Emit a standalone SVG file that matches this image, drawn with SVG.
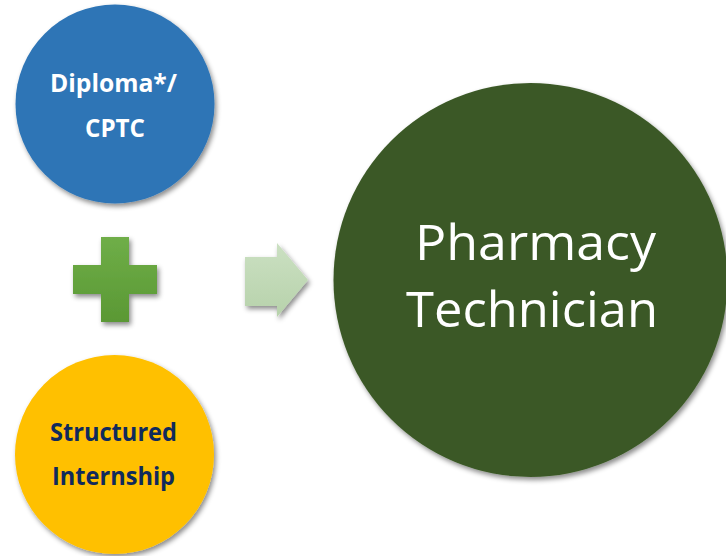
<svg xmlns="http://www.w3.org/2000/svg" width="726" height="556" viewBox="0 0 726 556">
  <style>
    .lbl-bold { font-family: "Open Sans", "Liberation Sans", sans-serif; font-weight: bold; font-size: 25px; text-anchor: middle; }
    .lbl-big { font-family: "Open Sans", "Liberation Sans", sans-serif; font-size: 50px; fill: #ffffff; text-anchor: middle; }
  </style>
  <defs>
    <filter id="shadow" x="-20%" y="-20%" width="140%" height="140%">
      <feDropShadow dx="2" dy="3" stdDeviation="2.5" flood-color="#000000" flood-opacity="0.45"/>
    </filter>
    <linearGradient id="plusGrad" x1="0" y1="0" x2="0" y2="1">
      <stop offset="0" stop-color="#6fae48"/>
      <stop offset="1" stop-color="#5a9834"/>
    </linearGradient>
    <linearGradient id="arrowGrad" x1="0" y1="0" x2="0" y2="1">
      <stop offset="0" stop-color="#cbe0c2"/>
      <stop offset="1" stop-color="#b7d2ab"/>
    </linearGradient>
  </defs>
  <rect width="726" height="556" fill="#ffffff"/>

  <g id="diploma">
    <circle cx="115" cy="104" r="99.5" fill="#2e75b6" filter="url(#shadow)"/>
    <text class="lbl-bold" fill="#ffffff"><tspan x="113.5" y="92" textLength="127" lengthAdjust="spacingAndGlyphs">Diploma*/</tspan><tspan x="115" y="137" textLength="60" lengthAdjust="spacingAndGlyphs">CPTC</tspan></text>
  </g>

  <g id="internship">
    <circle cx="114.5" cy="454.5" r="99.5" fill="#ffc000" filter="url(#shadow)"/>
    <text class="lbl-bold" fill="#102a5c"><tspan x="113.5" y="441" textLength="127" lengthAdjust="spacingAndGlyphs">Structured</tspan><tspan x="113.5" y="485" textLength="123" lengthAdjust="spacingAndGlyphs">Internship</tspan></text>
  </g>

  <g id="technician">
    <circle cx="530.5" cy="280" r="197" fill="#3b5926" filter="url(#shadow)"/>
    <text class="lbl-big"><tspan x="535.5" y="260" textLength="241" lengthAdjust="spacingAndGlyphs">Pharmacy</tspan><tspan x="532" y="327" textLength="252" lengthAdjust="spacingAndGlyphs">Technician</tspan></text>
  </g>

  <g id="connectors">
    <path id="plus" d="M101,237 H129 V265 H157 V294 H129 V322 H101 V294 H73 V265 H101 Z" fill="url(#plusGrad)" filter="url(#shadow)"/>
    <path id="arrow" d="M245,257 H277 V243 L308,280 L277,317 V306 H245 Z" fill="url(#arrowGrad)" filter="url(#shadow)"/>
  </g>
</svg>
